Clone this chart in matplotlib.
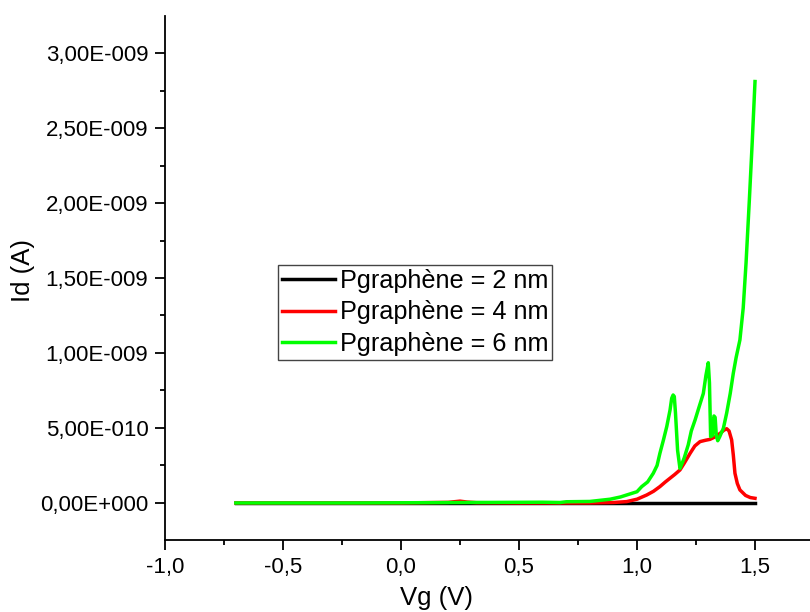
import matplotlib
matplotlib.use("Agg")
import matplotlib.pyplot as plt
from matplotlib.ticker import FuncFormatter, FixedLocator
import numpy as np

plt.rcParams['font.family'] = ['Liberation Sans', 'DejaVu Sans']

# Gate voltage sweep (V) and drain currents (A) for three graphene widths
vg_2nm = [-0.7, 0.0, 0.5, 1.0, 1.5]
id_2nm = [0.0, 0.0, 0.0, 0.0, 0.0]

vg_4nm = [-0.7, 0.0, 0.2, 0.25, 0.28, 0.32, 0.5, 0.8, 0.9, 0.956, 1.0, 1.041, 1.07, 1.097,
          1.12, 1.14, 1.16, 1.182, 1.2, 1.225, 1.245, 1.267, 1.29, 1.309, 1.33, 1.352,
          1.368, 1.38, 1.39, 1.401, 1.408, 1.415, 1.425, 1.436, 1.46, 1.48, 1.5]
id_4nm = [0.0, 0.0, 0.004e-9, 0.012e-9, 0.006e-9, 0.002e-9, 0.0, 0.0, 0.003e-9, 0.009e-9,
          0.025e-9, 0.053e-9, 0.078e-9, 0.109e-9, 0.14e-9, 0.165e-9, 0.19e-9, 0.22e-9,
          0.265e-9, 0.331e-9, 0.38e-9, 0.409e-9, 0.418e-9, 0.424e-9, 0.44e-9, 0.464e-9,
          0.485e-9, 0.495e-9, 0.48e-9, 0.42e-9, 0.32e-9, 0.198e-9, 0.13e-9, 0.087e-9,
          0.05e-9, 0.036e-9, 0.031e-9]

vg_6nm = [-0.7, -0.2, 0.3, 0.6, 0.674, 0.7, 0.8, 0.886, 0.93, 0.97, 1.0, 1.02, 1.045,
          1.069, 1.085, 1.097, 1.112, 1.126, 1.14, 1.147, 1.153, 1.158, 1.163, 1.172,
          1.182, 1.19, 1.2, 1.217, 1.23, 1.246, 1.265, 1.281, 1.292, 1.302, 1.307, 1.312,
          1.32, 1.326, 1.331, 1.336, 1.342, 1.35, 1.366, 1.38, 1.395, 1.408, 1.42, 1.436,
          1.45, 1.462, 1.476, 1.488, 1.5]
id_6nm = [0.0, 0.0, 0.003e-9, 0.005e-9, 0.003e-9, 0.008e-9, 0.01e-9, 0.025e-9, 0.04e-9,
          0.06e-9, 0.075e-9, 0.109e-9, 0.14e-9, 0.198e-9, 0.25e-9, 0.331e-9, 0.42e-9,
          0.509e-9, 0.62e-9, 0.698e-9, 0.72e-9, 0.71e-9, 0.6e-9, 0.35e-9, 0.23e-9,
          0.26e-9, 0.3e-9, 0.387e-9, 0.48e-9, 0.553e-9, 0.65e-9, 0.73e-9, 0.85e-9,
          0.935e-9, 0.8e-9, 0.442e-9, 0.45e-9, 0.58e-9, 0.571e-9, 0.45e-9, 0.415e-9,
          0.44e-9, 0.498e-9, 0.6e-9, 0.73e-9, 0.865e-9, 0.97e-9, 1.087e-9, 1.3e-9,
          1.6e-9, 2.02e-9, 2.4e-9, 2.81e-9]

labels = ['Pgraphène = 2 nm', 'Pgraphène = 4 nm', 'Pgraphène = 6 nm']
colors = ['#000000', '#ff0000', '#00ff00']

x_major = [-1.0, -0.5, 0.0, 0.5, 1.0, 1.5]
x_minor = [-0.75, -0.25, 0.25, 0.75, 1.25]
y_major = [0.0, 0.5e-9, 1.0e-9, 1.5e-9, 2.0e-9, 2.5e-9, 3.0e-9]
y_minor = [-0.25e-9, 0.25e-9, 0.75e-9, 1.25e-9, 1.75e-9, 2.25e-9, 2.75e-9, 3.25e-9]

fig = plt.figure(figsize=(8.1, 6.12), dpi=100)
ax = fig.add_axes([165 / 810, (612 - 540) / 612, 645 / 810, 524 / 612])

ax.plot(vg_2nm, id_2nm, color=colors[0], lw=2.5, label=labels[0])
ax.plot(vg_4nm, id_4nm, color=colors[1], lw=2.5, label=labels[1])
ax.plot(vg_6nm, id_6nm, color=colors[2], lw=2.5, label=labels[2])

ax.set_xlim(-1.0, 1.733)
ax.set_ylim(-0.247e-9, 3.247e-9)

ax.spines['top'].set_visible(False)
ax.spines['right'].set_visible(False)
for s in ('left', 'bottom'):
    ax.spines[s].set_linewidth(1.3)

ax.xaxis.set_major_locator(FixedLocator(x_major))
ax.xaxis.set_minor_locator(FixedLocator(x_minor))
ax.yaxis.set_major_locator(FixedLocator(y_major))
ax.yaxis.set_minor_locator(FixedLocator(y_minor))
ax.tick_params(which='major', direction='out', length=7, width=1.3, labelsize=16, pad=5)
ax.tick_params(which='minor', direction='out', length=3.5, width=1.3)


def fmt_x(v, pos):
    return f"{v:.1f}".replace('.', ',')


def fmt_y(v, pos):
    if abs(v) < 1e-15:
        return "0,00E+000"
    mant, exp = f"{v:.2E}".split('E')
    e = int(exp)
    sign = '-' if e < 0 else '+'
    return f"{mant.replace('.', ',')}E{sign}{abs(e):03d}"


ax.xaxis.set_major_formatter(FuncFormatter(fmt_x))
ax.yaxis.set_major_formatter(FuncFormatter(fmt_y))

ax.set_xlabel('Vg (V)', fontsize=18.5)
ax.xaxis.label.set_va('center')
ax.xaxis.set_label_coords((436 - 165) / 645, (540 - 598) / 524)
ax.set_ylabel('Id (A)', fontsize=18.5)
ax.yaxis.label.set_va('center')
ax.yaxis.set_label_coords((23 - 165) / 645, (540 - 270) / 524)

leg = ax.legend(loc='upper left', bbox_to_anchor=((278 - 165) / 645, (540 - 265) / 524),
                borderaxespad=0, fontsize=18.2, frameon=True, fancybox=False,
                handlelength=2.1, handletextpad=0.2, labelspacing=0.3, borderpad=0.15)
leg.get_frame().set_edgecolor('#444444')
leg.get_frame().set_linewidth(1.0)
leg.get_frame().set_alpha(1)

fig.savefig('out.png', dpi=100)
